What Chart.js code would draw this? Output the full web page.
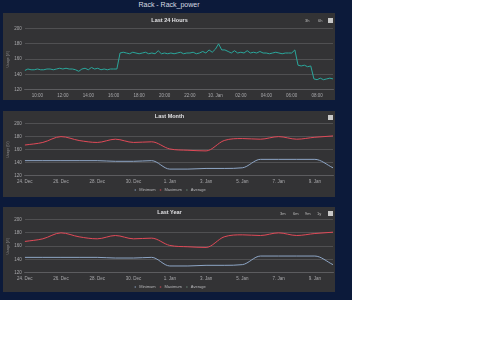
<!DOCTYPE html>
<html>
<head>
<meta charset="utf-8">
<script src="https://cdn.jsdelivr.net/npm/chart.js@4/dist/chart.umd.min.js"></script>
<style>
  html,body{margin:0;padding:0;background:#ffffff;width:480px;height:360px;overflow:hidden;font-family:"Liberation Sans","DejaVu Sans",sans-serif;}
  #bg{position:absolute;left:0;top:0;width:352px;height:300px;background:#0c1a3a;}
  #mainTitle{position:absolute;left:0;top:1px;width:338px;text-align:center;color:#d8dbe2;font-size:7px;}
  .panel{position:absolute;left:3px;width:332px;background:#333335;overflow:hidden;}
  .panel canvas{position:absolute;left:0;top:0;}
  .btn{position:absolute;color:#bbb;font-size:4px;}
  .menu{position:absolute;width:5px;height:5px;background:#c8c8c8;}
</style>
</head>
<body>
<div id="bg"></div>
<div id="mainTitle">Rack - Rack_power</div>
<div class="panel" style="top:13px;height:87px"><canvas id="c1" width="332" height="87"></canvas>
  <span class="btn" style="left:302px;top:5px">3h</span><span class="btn" style="left:315px;top:5px">6h</span><div class="menu" style="left:325px;top:5px"></div></div>
<div class="panel" style="top:111px;height:86px"><canvas id="c2" width="332" height="91"></canvas>
  <div class="menu" style="left:325px;top:4px"></div></div>
<div class="panel" style="top:207px;height:85px"><canvas id="c3" width="332" height="92"></canvas>
  <span class="btn" style="left:277px;top:4px">3m</span><span class="btn" style="left:290px;top:4px">6m</span><span class="btn" style="left:302px;top:4px">9m</span><span class="btn" style="left:314px;top:4px">1y</span><div class="menu" style="left:325px;top:4px"></div></div>
<script>
// ---- Last 24 hours (15-minute samples starting 09:00) ----
const dayStartHour = 9;
const dayStepHours = 0.25;
const dayPower = [
  145,147,146,146,147,146,146,147,147,146,147,148,147,148,147,147,
  146,144,147,148,146,149,147,148,146,147,146,147,147,147,
  168,169,168,167,169,168,167,168,169,167,168,167,171,167,168,167,
  168,167,168,169,167,168,168,169,167,168,170,168,172,169,173,180,
  172,172,170,168,171,168,169,168,171,168,169,168,170,168,168,167,
  168,169,168,167,168,168,168,172,152,151,152,150,151,134,133,135,
  133,134,135,134
];
const dayTickHours = [10,12,14,16,18,20,22,24,26,28,30,32];
const dayTickLabels = ['10:00','12:00','14:00','16:00','18:00','20:00','22:00','10. Jan','02:00','04:00','06:00','08:00'];

// ---- Daily series (24. Dec .. 10. Jan) ----
const monthDays = [0,1,2,3,4,5,6,7,8,9,10,11,12,13,14,15,16,17];
const minimumValues = [143,143,143,143,143,142,142,143,130,130,131,131,132,145,145,145,145,132];
const maximumValues = [167,171,180,174,171,176,171,172,161,159,158,174,177,176,180,176,179,181];
const averageValues = [null,null,null,null,null,null,null,null,null,null,null,null,null,null,null,null,null,null];
const monthTickDays = [0,2,4,6,8,10,12,14,16];
const monthTickLabels = ['24. Dec','26. Dec','28. Dec','30. Dec','1. Jan','3. Jan','5. Jan','7. Jan','9. Jan'];

const yMin = 120, yMax = 200, yStep = 20;
const gridColor = '#58585b';
const tickColor = '#a8a8ab';
const FONT = "'Liberation Sans', 'DejaVu Sans', sans-serif";

function yScale(){
  return {
    min:yMin,max:yMax,
    ticks:{stepSize:yStep,color:tickColor,font:{size:4.5,family:FONT},padding:3},
    grid:{color:gridColor,lineWidth:0.8,drawTicks:false},
    border:{display:false},
    title:{display:true,text:'Usage (W)',color:'#8a8a8d',font:{size:3.5,family:FONT},padding:{top:0,bottom:1}}
  };
}
function xScale(min,max,tickVals,tickLabels){
  return {
    type:'linear',min:min,max:max,
    afterBuildTicks:(axis)=>{axis.ticks = tickVals.map(v=>({value:v}));},
    ticks:{color:tickColor,font:{size:4.5,family:FONT},autoSkip:false,maxRotation:0,padding:1,
      callback:(v)=>{const i=tickVals.indexOf(v);return i>=0?tickLabels[i]:'';}},
    grid:{display:false,drawTicks:true,tickLength:2,color:'#606063'},
    border:{display:true,color:'#606063',width:0.8}
  };
}
function titleOpt(text,pb){
  return {display:true,text:text,color:'#e0e0e3',font:{size:5.5,weight:'bold',family:FONT},padding:{top:2,bottom:pb}};
}

new Chart(document.getElementById('c1'),{
  type:'line',
  data:{datasets:[{label:'Power',data:dayPower.map((v,i)=>({x:dayStartHour+i*dayStepHours,y:v})),
    borderColor:'#2ba79c',borderWidth:1,pointRadius:0,tension:0}]},
  options:{
    responsive:false,animation:false,
    layout:{padding:{left:3,right:2,top:2,bottom:1}},
    plugins:{legend:{display:false},title:titleOpt('Last 24 Hours',5),tooltip:{enabled:false}},
    scales:{x:xScale(dayStartHour,dayStartHour+(dayPower.length-1)*dayStepHours,dayTickHours,dayTickLabels),y:yScale()}
  }
});

function monthChart(id,title){
  new Chart(document.getElementById(id),{
    type:'line',
    data:{datasets:[
      {label:'Minimum',data:monthDays.map((d,i)=>({x:d,y:minimumValues[i]})),borderColor:'#8ea6c6',backgroundColor:'#8ea6c6',borderWidth:1,pointRadius:0,tension:0.4,cubicInterpolationMode:'monotone'},
      {label:'Maximum',data:monthDays.map((d,i)=>({x:d,y:maximumValues[i]})),borderColor:'#e04a58',backgroundColor:'#e04a58',borderWidth:1,pointRadius:0,tension:0.4,cubicInterpolationMode:'monotone'},
      {label:'Average',data:monthDays.map((d,i)=>({x:d,y:averageValues[i]})),borderColor:'#6a8a7a',backgroundColor:'#6a8a7a',borderWidth:1,pointRadius:0}
    ]},
    options:{
      responsive:false,animation:false,
      layout:{padding:{left:3,right:2,top:0,bottom:0}},
      plugins:{
        title:titleOpt(title,4),tooltip:{enabled:false},
        legend:{display:true,position:'bottom',
          labels:{color:'#b8b8bb',font:{size:4,family:FONT},usePointStyle:true,pointStyle:'line',boxWidth:7,boxHeight:1,padding:3}}
      },
      scales:{x:xScale(monthDays[0],monthDays[monthDays.length-1],monthTickDays,monthTickLabels),y:yScale()}
    }
  });
}
monthChart('c2','Last Month');
monthChart('c3','Last Year');
</script>
</body>
</html>
